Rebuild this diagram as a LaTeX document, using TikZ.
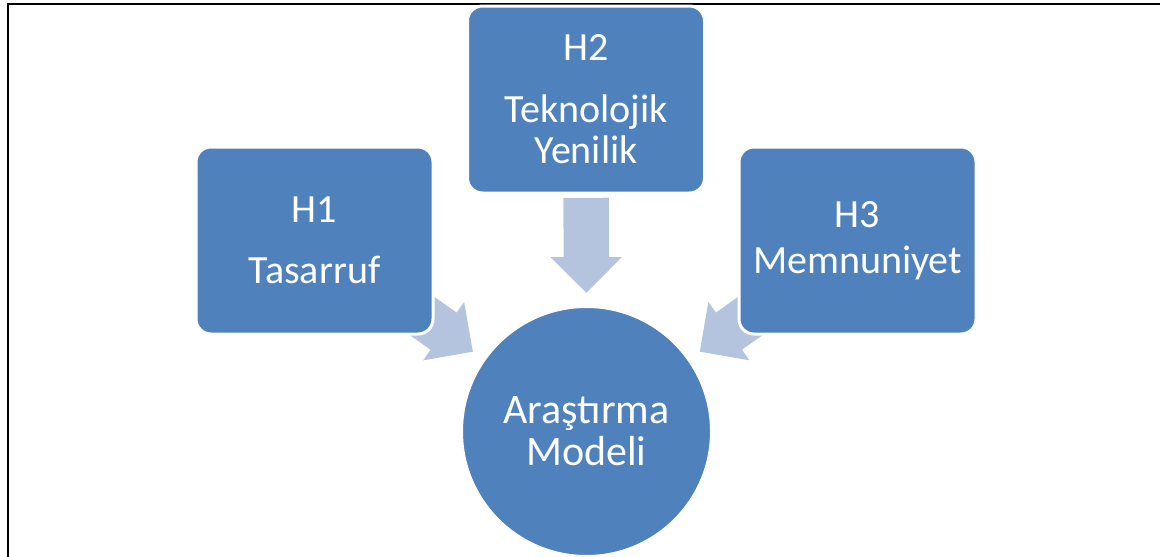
\documentclass[tikz,border=0pt]{standalone}
\usepackage{fontspec}
\setmainfont{Carlito}
\usetikzlibrary{shapes.arrows,backgrounds}
\definecolor{boxblue}{RGB}{79,129,189}
\definecolor{arrowblue}{RGB}{180,196,223}
\begin{document}
\begin{tikzpicture}[x=1pt,y=-1pt,
  box/.style={rectangle, rounded corners=15pt, fill=boxblue, draw=white, line width=3pt,
    minimum width=237pt, minimum height=187pt, text=white, align=center,
    font=\fontsize{40}{41}\selectfont, inner sep=0pt},
  hub/.style={circle, fill=boxblue, draw=white, line width=1pt, minimum size=248pt,
    inner sep=0pt, text=white, align=center, font=\fontsize{42}{42}\selectfont},
  blockarrow/.style={single arrow, fill=arrowblue, draw=none, minimum height=95pt,
    minimum width=1pt, inner xsep=0pt, inner ysep=22.5pt, single arrow head extend=13pt,
    sloped, allow upside down, anchor=tip},
  frameline/.style={line width=2pt, black}
]
\useasboundingbox (0,0) rectangle (1160,557);
\draw[frameline] (8,557) -- (8,4) -- (1160,4);

\node[box] (h1) at (314.5,240.5) {H1\\[20pt]Tasarruf};
\node[box] (h2) at (586,99.5) {H2\\[21pt]Teknolojik\\Yenilik};
\node[box] (h3) at (857.5,240.5) {H3\\[5pt]Memnuniyet};
\node[hub] (c) at (586.5,431.5) {Araştırma\\Modeli};

\begin{scope}[on background layer]
  \path (h1.center) -- (c.center) node[blockarrow, pos=0.583] (a1) {};
  \path (h2.center) -- (c.center) node[blockarrow, pos=0.583] (a2) {};
  \path (h3.center) -- (c.center) node[blockarrow, pos=0.583] (a3) {};
\end{scope}
\end{tikzpicture}
\end{document}
